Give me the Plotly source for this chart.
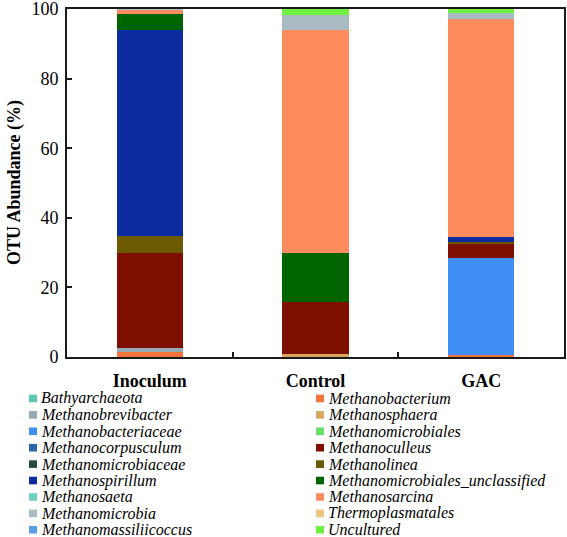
import plotly.graph_objects as go

categories = ["Inoculum", "Control", "GAC"]

# Series in stacking order (bottom to top), matching the legend order
taxa = [
    "Bathyarchaeota", "Methanobacterium", "Methanobrevibacter", "Methanosphaera",
    "Methanobacteriaceae", "Methanomicrobiales", "Methanocorpusculum", "Methanoculleus",
    "Methanomicrobiaceae", "Methanolinea", "Methanospirillum", "Methanomicrobiales_unclassified",
    "Methanosaeta", "Methanosarcina", "Methanomicrobia", "Thermoplasmatales",
    "Methanomassiliicoccus", "Uncultured",
]
colors = [
    "#5CC8B4", "#F4733C", "#95ABB3", "#D9A860",
    "#3F8EF5", "#66E066", "#2E64A8", "#7F0F00",
    "#234A3C", "#6B5A00", "#0B2B9E", "#006400",
    "#6FD0C4", "#FF8C5E", "#A9BCC4", "#EEC57E",
    "#5A9FE6", "#70F040",
]
inoculum = [0.0, 1.3, 1.35, 0.0, 0.0, 0.0, 0.0, 27.2, 0.0, 4.8, 59.4, 4.6, 0.0, 1.2, 0.15, 0.0, 0.0, 0.0]
control  = [0.0, 0.0, 0.0, 0.8, 0.0, 0.0, 0.0, 15.1, 0.0, 0.0, 0.0, 14.0, 0.0, 64.2, 4.1, 0.0, 0.0, 1.8]
gac      = [0.0, 0.7, 0.0, 0.0, 27.8, 0.0, 0.0, 4.2, 0.0, 0.3, 1.4, 0.0, 0.0, 62.7, 1.8, 0.0, 0.0, 1.1]

y_ticks = [0, 20, 40, 60, 80, 100]
y_title = "OTU Abundance (%)"

FONT = "Liberation Serif"
W, H = 567, 537
ML, MT = 67, 9
PR, PB = 564, 356.6
MR, MB = W - PR, H - PB
PW, PH = PR - ML, PB - MT

fig = go.Figure()
for i, name in enumerate(taxa):
    fig.add_trace(go.Bar(
        x=categories,
        y=[inoculum[i], control[i], gac[i]],
        name=name,
        marker=dict(color=colors[i], line=dict(width=0)),
        showlegend=False,
    ))

# Manual legend: two columns
shapes = []
annotations = []
row0, row_step = 398.0, 16.4
col_sq = [29, 316]
for k, name in enumerate(taxa):
    row, col = k // 2, k % 2
    ypx = row0 + row * row_step
    xs = col_sq[col]
    yp = (PB - ypx) / PH
    shapes.append(dict(
        type="rect", xref="paper", yref="paper",
        x0=(xs - ML) / PW, x1=(xs + 8 - ML) / PW,
        y0=yp - 3.8 / PH, y1=yp + 3.8 / PH,
        fillcolor=colors[k], line=dict(width=0),
    ))
    annotations.append(dict(
        xref="paper", yref="paper",
        x=(xs + 10 - ML) / PW, y=yp,
        xanchor="left", yanchor="middle",
        text="<i>" + name + "</i>", showarrow=False,
        font=dict(family=FONT, size=16, color="black"),
    ))

# Y-axis title as rotated text
annotations.append(dict(
    xref="paper", yref="paper",
    x=(14 - ML) / PW, y=0.5,
    xanchor="center", yanchor="middle", textangle=-90,
    text="<b>" + y_title + "</b>", showarrow=False,
    font=dict(family=FONT, size=18, color="black"),
))

fig.update_layout(
    width=W, height=H,
    margin=dict(l=ML, r=MR, t=MT, b=MB, pad=0),
    barmode="stack",
    bargap=0.6,
    plot_bgcolor="white",
    paper_bgcolor="white",
    font=dict(family=FONT, size=18, color="black"),
    shapes=shapes,
    annotations=annotations,
    showlegend=False,
)
fig.update_xaxes(
    showline=True, linecolor="#1a1a1a", linewidth=1.8, mirror=True,
    ticks="inside", tickson="boundaries", ticklen=5, tickcolor="#1a1a1a", tickwidth=1.5,
    tickfont=dict(family=FONT, size=18, color="black"),
    tickprefix="<b>", ticksuffix="</b>",
    ticklabelstandoff=6,
    showgrid=False, automargin=False,
)
fig.update_yaxes(
    range=[0, 100], tickvals=y_ticks,
    showline=True, linecolor="#1a1a1a", linewidth=1.8, mirror=True,
    ticks="inside", ticklen=5, tickcolor="#1a1a1a", tickwidth=1.5,
    tickfont=dict(family=FONT, size=18, color="black"),
    ticklabelstandoff=3, ticklabeloverflow="allow",
    showgrid=False, zeroline=False, automargin=False,
)

fig.write_html(
    "out.html",
    config={"displayModeBar": False},
    post_script="document.body.style.margin='0';document.body.style.overflow='hidden';",
)
